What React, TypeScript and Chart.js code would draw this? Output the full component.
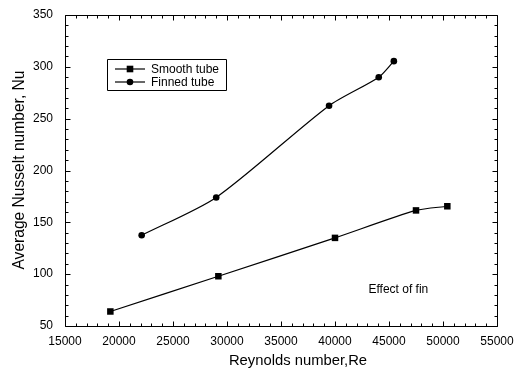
import React, { useEffect, useRef } from "react";
import { Chart, registerables } from "chart.js";

Chart.register(...registerables);

const smoothRe = [19200, 29200, 40000, 47500, 50400];
const smoothNu = [64, 98, 135, 161.5, 165.5];
const finnedRe = [22100, 29000, 39450, 44050, 45450];
const finnedNu = [137.5, 174, 262.5, 290, 305.5];
const seriesNames = ["Smooth tube", "Finned tube"];
const xTitle = "Reynolds number,Re";
const yTitle = "Average Nusselt number, Nu";
const noteText = "Effect of fin";
const noteAt = { x: 43100, y: 85 };
const xRange = { min: 15000, max: 55000, step: 5000, minor: 1000 };
const yRange = { min: 50, max: 350, step: 50, minor: 10 };

const FONT = "'Liberation Sans', Arial, Helvetica, sans-serif";

const decorPlugin = {
  id: "decor",
  afterDraw(chart: any) {
    const ctx: CanvasRenderingContext2D = chart.ctx;
    const xs = chart.scales.x;
    const ys = chart.scales.y;
    const a = chart.chartArea;
    ctx.save();
    ctx.strokeStyle = "#000";
    ctx.fillStyle = "#000";
    ctx.lineWidth = 1;
    const L = Math.round(a.left) + 0.5;
    const R = Math.round(a.right) + 0.5;
    const T = Math.round(a.top) + 0.5;
    const B = Math.round(a.bottom) + 0.5;
    ctx.beginPath();
    ctx.rect(L, T, R - L, B - T);
    ctx.stroke();
    ctx.beginPath();
    for (let v = xRange.min; v <= xRange.max; v += xRange.minor) {
      const major = v % xRange.step === 0;
      const len = major ? 5 : 3;
      const px = Math.round(xs.getPixelForValue(v)) + 0.5;
      ctx.moveTo(px, B);
      ctx.lineTo(px, B - len);
      ctx.moveTo(px, T);
      ctx.lineTo(px, T + len);
    }
    for (let v = yRange.min; v <= yRange.max; v += yRange.minor) {
      const major = v % yRange.step === 0;
      const len = major ? 5 : 3;
      const py = Math.round(ys.getPixelForValue(v)) + 0.5;
      ctx.moveTo(L, py);
      ctx.lineTo(L + len, py);
      ctx.moveTo(R, py);
      ctx.lineTo(R - len, py);
    }
    ctx.stroke();

    const bx = 107.5, by = 59.5, bw = 119, bh = 31;
    ctx.beginPath();
    ctx.rect(bx, by, bw, bh);
    ctx.stroke();
    ctx.font = `12px ${FONT}`;
    ctx.textBaseline = "middle";
    ctx.textAlign = "left";
    const rows = [69, 82];
    rows.forEach((ry, i) => {
      ctx.lineWidth = 1.2;
      ctx.beginPath();
      ctx.moveTo(115, ry);
      ctx.lineTo(145, ry);
      ctx.stroke();
      if (i === 0) {
        ctx.fillRect(126.7, ry - 3.3, 6.6, 6.6);
      } else {
        ctx.beginPath();
        ctx.arc(130, ry, 3.3, 0, Math.PI * 2);
        ctx.fill();
      }
      ctx.fillText(seriesNames[i], 151, ry + 0.5);
    });

    ctx.fillText(noteText, xs.getPixelForValue(noteAt.x), ys.getPixelForValue(noteAt.y));

    ctx.font = `14.8px ${FONT}`;
    ctx.textAlign = "center";
    ctx.fillText(xTitle, 298, 361);
    ctx.save();
    ctx.translate(20, 170);
    ctx.rotate(-Math.PI / 2);
    ctx.font = `15.6px ${FONT}`;
    ctx.fillText(yTitle, 0, 0);
    ctx.restore();
    ctx.restore();
  },
};

export default function App() {
  const ref = useRef<HTMLCanvasElement | null>(null);
  useEffect(() => {
    if (!ref.current) return;
    const chart = new Chart(ref.current, {
      type: "line",
      data: {
        datasets: [
          {
            label: seriesNames[0],
            data: smoothRe.map((x, i) => ({ x, y: smoothNu[i] })),
            borderColor: "#000",
            backgroundColor: "#000",
            borderWidth: 1.2,
            pointStyle: "rect",
            pointRadius: 4.6,
            pointBorderWidth: 0,
            tension: 0.25,
          },
          {
            label: seriesNames[1],
            data: finnedRe.map((x, i) => ({ x, y: finnedNu[i] })),
            borderColor: "#000",
            backgroundColor: "#000",
            borderWidth: 1.2,
            pointStyle: "circle",
            pointRadius: 3.3,
            pointBorderWidth: 0,
            tension: 0.25,
          },
        ],
      },
      options: {
        animation: false,
        responsive: false,
        maintainAspectRatio: false,
        layout: { padding: { top: 15, right: 23, left: 0, bottom: 0 } },
        plugins: {
          legend: { display: false },
          tooltip: { enabled: false },
        },
        scales: {
          x: {
            type: "linear",
            min: xRange.min,
            max: xRange.max,
            ticks: {
              stepSize: xRange.step,
              color: "#000",
              padding: 8,
              maxRotation: 0,
              font: { family: FONT, size: 12 },
              callback: (v: any) => String(v),
            },
            grid: { display: false, drawTicks: false },
            border: { display: false },
            afterFit: (s: any) => {
              s.height = 45;
              s.paddingLeft = 0;
              s.paddingRight = 0;
            },
          },
          y: {
            type: "linear",
            min: yRange.min,
            max: yRange.max,
            ticks: {
              stepSize: yRange.step,
              color: "#000",
              padding: 12,
              font: { family: FONT, size: 12 },
              callback: (v: any) => String(v),
            },
            grid: { display: false, drawTicks: false },
            border: { display: false },
            afterFit: (s: any) => {
              s.width = 65;
              s.paddingTop = 0;
              s.paddingBottom = 0;
            },
          },
        },
      },
      plugins: [decorPlugin],
    } as any);
    return () => chart.destroy();
  }, []);
  return (
    <div style={{ position: "fixed", left: 0, top: 0, width: 520, height: 371, background: "#fff" }}>
      <canvas ref={ref} width={520} height={371} style={{ width: 520, height: 371 }} />
    </div>
  );
}
